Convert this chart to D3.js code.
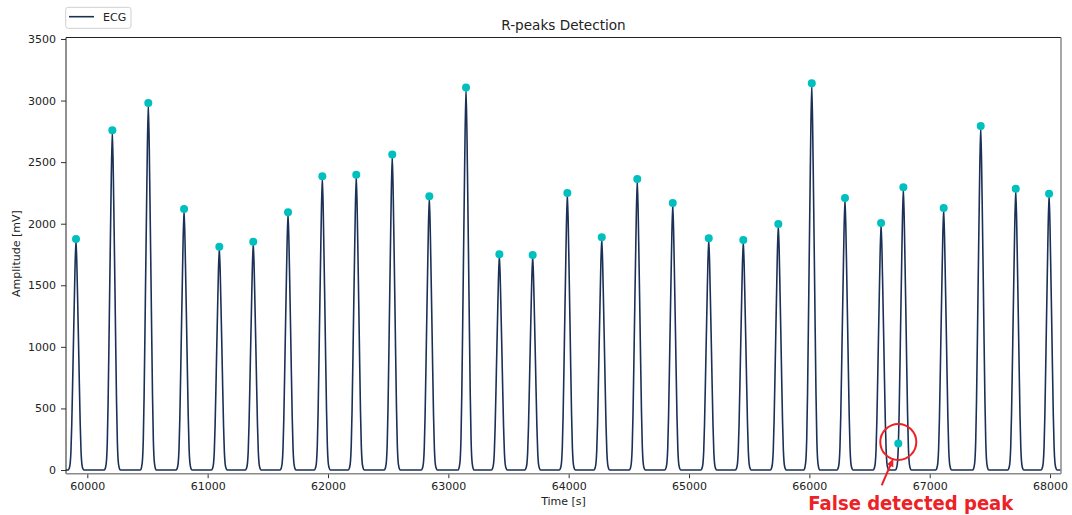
<!DOCTYPE html>
<html>
<head>
<meta charset="utf-8">
<script src="https://cdn.jsdelivr.net/npm/d3@7"></script>
<style>
  html, body { margin: 0; padding: 0; background: #fff; }
  svg { display: block; }
  text { font-family: "DejaVu Sans", sans-serif; }
</style>
</head>
<body>
<svg id="chart" width="1072" height="515"></svg>
<script>
// ---- data ----
// ECG R-wave peaks (time [s], amplitude [mV])
const peakTimes = [59906, 60208, 60507, 60804, 61097, 61379, 61668, 61953, 62235, 62534,
                   62842, 63147, 63424, 63701, 63989, 64275, 64570, 64865, 65164, 65451,
                   65742, 66020, 66296, 66596, 66781, 67116, 67424, 67715, 67992];
const peakAmps  = [1876, 2759, 2980, 2120, 1813, 1854, 2093, 2385, 2398, 2561,
                   2223, 3105, 1752, 1746, 2250, 1890, 2363, 2168, 1882, 1868,
                   1998, 3140, 2209, 2006, 2296, 2128, 2794, 2284, 2244];
// detected R-peaks (markers), including the false detection
const detTimes = [59906, 60208, 60507, 60804, 61097, 61379, 61668, 61953, 62235, 62534,
                  62842, 63147, 63424, 63701, 63989, 64275, 64570, 64865, 65164, 65451,
                  65742, 66020, 66296, 66596, 66739, 66781, 67116, 67424, 67715, 67992];
const detAmps  = [1876, 2759, 2980, 2120, 1813, 1854, 2093, 2385, 2398, 2561,
                  2223, 3105, 1752, 1746, 2250, 1890, 2363, 2168, 1882, 1868,
                  1998, 3140, 2209, 2006, 215, 2296, 2128, 2794, 2284, 2244];
const falseTime = 66739, falseAmp = 215;
// pulse profile (offset from peak [s], fraction of peak)
const pulseOffsets = [-66, -56, -48, -42, -35, -25, -12, 0, 12, 25, 35, 42, 48, 56, 66];
const pulseShape   = [0, 0.008, 0.03, 0.08, 0.2, 0.45, 0.78, 1, 0.78, 0.45, 0.2, 0.08, 0.03, 0.008, 0];
const xTicks = [60000, 61000, 62000, 63000, 64000, 65000, 66000, 67000, 68000];
const yTicks = [0, 500, 1000, 1500, 2000, 2500, 3000, 3500];
const xDomain = [59823, 68091];
const yDomain = [-30, 3512];

// ---- layout ----
const L = 66, R = 1061, T = 37.5, B = 473.7;
const svg = d3.select("#chart");
const x = d3.scaleLinear().domain(xDomain).range([L, R]);
const y = d3.scaleLinear().domain(yDomain).range([B, T]);

// build ECG series from peaks + pulse profile
const ecg = [{t: xDomain[0], v: 0}];
peakTimes.forEach((t, i) => {
  pulseOffsets.forEach((o, j) => ecg.push({t: t + o, v: peakAmps[i] * pulseShape[j]}));
});
ecg.push({t: xDomain[1], v: 0});

svg.append("defs").append("clipPath").attr("id", "clip")
  .append("rect").attr("x", L).attr("y", T).attr("width", R - L).attr("height", B - T);

const line = d3.line().x(d => x(d.t)).y(d => y(d.v)).curve(d3.curveMonotoneX);
svg.append("path").datum(ecg)
  .attr("clip-path", "url(#clip)")
  .attr("d", line)
  .attr("fill", "none")
  .attr("stroke", "#1b3056")
  .attr("stroke-width", 1.6)
  .attr("stroke-linejoin", "round");

svg.append("g").selectAll("circle").data(detTimes).join("circle")
  .attr("cx", d => x(d))
  .attr("cy", (d, i) => y(detAmps[i]))
  .attr("r", 4)
  .attr("fill", "#00bfbf");

// axes
const xAxis = d3.axisBottom(x).tickValues(xTicks).tickFormat(d3.format("d")).tickSize(4.5).tickPadding(4);
const gx = svg.append("g").attr("transform", `translate(0,${B})`).call(xAxis);
gx.select(".domain").remove();
gx.selectAll(".tick line").attr("stroke", "#333");
gx.selectAll(".tick text").attr("font-size", 11).attr("fill", "#222").attr("font-family", "DejaVu Sans");

const yAxis = d3.axisLeft(y).tickValues(yTicks).tickFormat(d3.format("d")).tickSize(5).tickPadding(5);
const gy = svg.append("g").attr("transform", `translate(${L},0)`).call(yAxis);
gy.select(".domain").remove();
gy.selectAll(".tick line").attr("stroke", "#333");
gy.selectAll(".tick text").attr("font-size", 11).attr("fill", "#222").attr("font-family", "DejaVu Sans");

// spines
svg.append("line").attr("x1", L).attr("x2", R).attr("y1", T).attr("y2", T).attr("stroke", "#222").attr("stroke-width", 1);
svg.append("line").attr("x1", L).attr("x2", L).attr("y1", T).attr("y2", B).attr("stroke", "#222").attr("stroke-width", 1);
svg.append("line").attr("x1", L).attr("x2", R).attr("y1", B).attr("y2", B).attr("stroke", "#8a8a8a").attr("stroke-width", 1.5);
svg.append("line").attr("x1", R).attr("x2", R).attr("y1", T).attr("y2", B).attr("stroke", "#8a8a8a").attr("stroke-width", 1.5);

// titles
svg.append("text").attr("x", (L + R) / 2).attr("y", 30).attr("text-anchor", "middle")
  .attr("font-size", 13.6).attr("fill", "#222").text("R-peaks Detection");
svg.append("text").attr("x", (L + R) / 2).attr("y", 505).attr("text-anchor", "middle")
  .attr("font-size", 11).attr("fill", "#222").text("Time [s]");
svg.append("text").attr("transform", `translate(19.5,${(T + B) / 2 - 2}) rotate(-90)`)
  .attr("text-anchor", "middle").attr("font-size", 11).attr("fill", "#222").text("Amplitude [mV]");

// legend
const lg = svg.append("g");
lg.append("rect").attr("x", 65.7).attr("y", 7.3).attr("width", 65.3).attr("height", 21).attr("rx", 2.5)
  .attr("fill", "#fff").attr("stroke", "#d0d0d0").attr("stroke-width", 1);
lg.append("line").attr("x1", 69).attr("x2", 94).attr("y1", 16.7).attr("y2", 16.7)
  .attr("stroke", "#1b3056").attr("stroke-width", 1.6);
lg.append("text").attr("x", 103).attr("y", 20.8).attr("font-size", 11).attr("fill", "#222").text("ECG");

// annotation of the false detection
const fx = x(falseTime), fy = y(falseAmp);
const red = "#ec2227";
svg.append("circle").attr("cx", fx).attr("cy", fy - 1.6).attr("r", 18)
  .attr("fill", "none").attr("stroke", red).attr("stroke-width", 2);
const ax1 = fx - 16.6, ay1 = fy + 41.7, ax2 = fx - 5, ay2 = fy + 15;
const ang = Math.atan2(ay2 - ay1, ax2 - ax1);
const hl = 8, hw = 3.5;
svg.append("line").attr("x1", ax1).attr("y1", ay1)
  .attr("x2", ax2 - Math.cos(ang) * 5).attr("y2", ay2 - Math.sin(ang) * 5)
  .attr("stroke", red).attr("stroke-width", 2);
const bx = ax2 - Math.cos(ang) * hl, by = ay2 - Math.sin(ang) * hl;
svg.append("path")
  .attr("d", `M${ax2},${ay2} L${bx - Math.sin(ang) * hw},${by + Math.cos(ang) * hw} L${bx + Math.sin(ang) * hw},${by - Math.cos(ang) * hw} Z`)
  .attr("fill", red);
svg.append("text").attr("x", 808.3).attr("y", 509.5)
  .attr("font-family", "'Liberation Sans', Arial, sans-serif").attr("font-weight", "bold")
  .attr("font-size", 20).attr("textLength", 205).attr("lengthAdjust", "spacingAndGlyphs")
  .attr("fill", red).text("False detected peak");
</script>
</body>
</html>
